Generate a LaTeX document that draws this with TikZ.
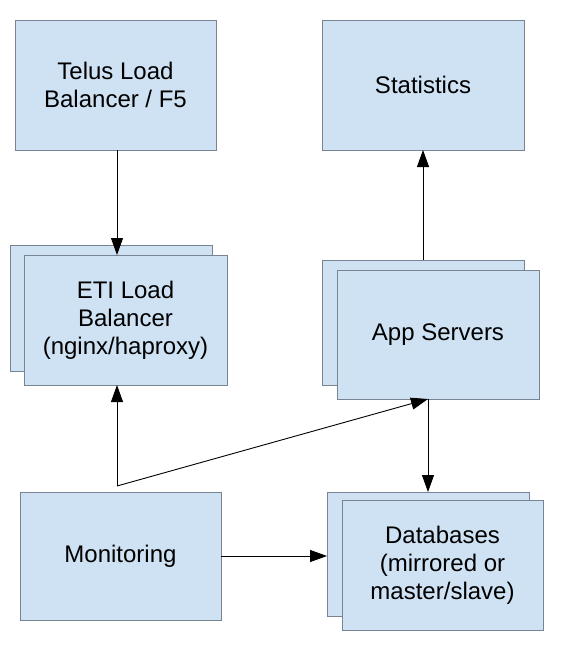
\documentclass[tikz,border=0pt]{standalone}
\usepackage{fontspec}
\setmainfont{Liberation Sans}
\usetikzlibrary{arrows.meta}
\definecolor{boxfill}{RGB}{207,226,243}
\definecolor{boxline}{RGB}{120,132,145}
\begin{document}
\begin{tikzpicture}[x=1pt,y=-1pt,
  box/.style={draw=boxline, line width=1pt, fill=boxfill, inner sep=0pt, outer sep=0pt,
    align=center, font=\fontsize{24}{28}\selectfont},
  arr/.style={draw=black, line width=0.9pt, -{Triangle[length=17pt,width=12pt]}}]
\useasboundingbox (0,0) rectangle (573,656);
\fill[white] (0,0) rectangle (573,656);
% top row
\node[box, minimum width=201pt, minimum height=130pt] (telus) at (115.5,85) {Telus Load\\Balancer / F5};
\node[box, minimum width=202pt, minimum height=130pt] (stats) at (423,85) {Statistics};
% ETI
\node[box, minimum width=202pt, minimum height=126pt] (etiback) at (111,308) {};
\node[box, minimum width=203pt, minimum height=130pt] (eti) at (125.5,320) {ETI Load\\Balancer\\(nginx/haproxy)};
% App servers
\node[box, minimum width=202pt, minimum height=125pt] (appback) at (423,322.5) {};
\node[box, minimum width=202pt, minimum height=129pt] (app) at (438,334.5) {App Servers};
% Databases
\node[box, minimum width=202pt, minimum height=124pt] (dbback) at (428,554) {};
\node[box, minimum width=201pt, minimum height=130pt] (db) at (442.5,565) {Databases\\(mirrored or\\master/slave)};
% Monitoring
\node[box, minimum width=201pt, minimum height=128pt] (mon) at (120.5,556) {Monitoring};
% junctions
\coordinate (mj) at (117,486);
\coordinate (aj) at (428,399);
% connectors
\draw[arr] (telus.south -| mj) -- (mj |- eti.north);
\draw[arr] (appback.north) -- (stats.south);
\draw[arr] (mj) -- (mj |- eti.south);
\draw[arr] (mj) -- (aj);
\draw[arr] (aj) -- (aj |- dbback.north);
\draw[arr] (mon.east) -- (mon.east -| dbback.west);
\end{tikzpicture}
\end{document}
